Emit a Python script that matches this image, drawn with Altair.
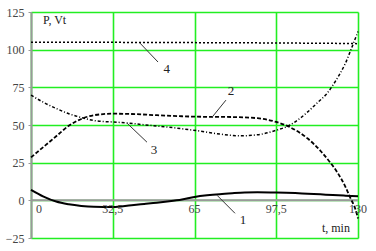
import altair as alt
import pandas as pd

# curve 1 (solid)
t1 = [0, 5, 10, 15, 20, 25, 32.5, 40, 45, 50, 55, 60, 65, 70, 75, 80, 85, 90, 97.5, 105, 110, 115, 120, 125, 130]
p1 = [7, 2.5, -0.8, -2.6, -3.7, -4.3, -4.5, -3.2, -2.4, -1.6, -0.6, 0.6, 2.2, 3.3, 4.1, 4.7, 5.2, 5.4, 5.2, 4.8, 4.4, 4.0, 3.5, 3.1, 2.7]
# curve 2 (dashed)
t2 = [0, 5, 10, 15, 20, 25, 32.5, 40, 50, 60, 70, 80, 90, 97.5, 103, 110, 115, 119, 122, 125, 127, 129, 130]
p2 = [28.5, 35.5, 42.5, 49.5, 54, 56.5, 57.5, 57.3, 56.5, 55.8, 55.4, 55.3, 54.5, 52, 48.5, 41, 33, 25, 18, 9, 1.5, -6, -12]
# curve 3 (dash-dot)
t3 = [0, 5, 10, 15, 20, 26, 32.5, 38, 43, 55, 67, 75, 83, 90, 97.5, 103, 107, 110, 114, 117.7, 121, 125, 127.6, 130]
p3 = [69.8, 65, 61, 57.5, 55, 52.7, 52, 51.4, 50.5, 48.5, 46, 44, 42.8, 43.5, 46.5, 50, 54.5, 58.7, 65, 71, 79, 91, 101.7, 112]
# curve 4 (dotted)
t4 = [0, 20, 40, 60, 80, 100, 120, 130]
p4 = [105, 105, 104.8, 104.7, 104.6, 104.4, 104.2, 104]

# curve labels and leader lines
lab_text = ["1", "2", "3", "4"]
lab_t = [84.3, 79.5, 48.9, 54]
lab_p = [-13.3, 72.5, 33.2, 87]
lead_t1 = [74, 72, 38.2, 43.3]
lead_p1 = [3.3, 55.2, 51.2, 104.4]
lead_t2 = [81.1, 77.5, 46.1, 50.5]
lead_p2 = [-8.6, 66.5, 38.6, 91.8]

# axis texts
x_tick_vals = [0, 32.5, 65, 97.5, 130]
x_tick_labels = ["0", "32,5", "65", "97,5", "130"]
y_tick_vals = [-25, 0, 25, 50, 75, 100, 125]

FONT = "Liberation Serif"
GREEN = "#22ee22"
GRAY = "#999999"

xs = alt.Scale(domain=[0, 130], nice=False, zero=False)
ys = alt.Scale(domain=[-25, 125], nice=False, zero=False)

XAXIS = alt.Axis(values=x_tick_vals, grid=True, gridColor=GREEN, gridWidth=1.6, gridOpacity=1,
                 labels=False, ticks=False, domain=False, title=None)
YAXIS = alt.Axis(values=y_tick_vals, grid=True, gridColor=GREEN, gridWidth=1.6, gridOpacity=1,
                 domainColor=GRAY, domainWidth=2, tickColor=GRAY, tickSize=3,
                 labelFont=FONT, labelFontSize=12, labelColor="#444444", labelOverlap=False,
                 labelFlush=False, labelPadding=4, title=None)


def X(field):
    return alt.X(field, type="quantitative", scale=xs, axis=XAXIS)


def Y(field):
    return alt.Y(field, type="quantitative", scale=ys, axis=YAXIS)


def curve(t, p, dash, width):
    df = pd.DataFrame({"t": t, "p": p})
    kw = dict(color="black", strokeWidth=width, interpolate="monotone", clip=False)
    if dash:
        kw["strokeDash"] = dash
    return alt.Chart(df).mark_line(**kw).encode(x=X("t"), y=Y("p"))


axis_df = pd.DataFrame({"t": [0], "t1": [130], "p": [0]})
xaxis = alt.Chart(axis_df).mark_rule(color=GRAY, strokeWidth=2).encode(
    x=X("t"), x2="t1:Q", y=Y("p")
)

xl_df = pd.DataFrame({"t": x_tick_vals, "lab": x_tick_labels, "p": [0] * len(x_tick_vals)})
xl_first = alt.Chart(xl_df.iloc[:1]).mark_text(font=FONT, fontSize=12, color="#444444", align="left",
                                                 baseline="middle", dx=5, dy=9).encode(
    x=X("t"), y=Y("p"), text="lab:N")
xl_rest = alt.Chart(xl_df.iloc[1:]).mark_text(font=FONT, fontSize=12, color="#444444", align="center",
                                                baseline="middle", dy=9).encode(
    x=X("t"), y=Y("p"), text="lab:N")

titles_df = pd.DataFrame({"t": [4.8, 126.8], "p": [119.7, -18.6], "lab": ["P, Vt", "t, min"]})
ytitle = alt.Chart(titles_df.iloc[:1]).mark_text(font=FONT, fontSize=12, color="#222222", align="left",
                                                  baseline="middle").encode(
    x=X("t"), y=Y("p"), text="lab:N")
xtitle = alt.Chart(titles_df.iloc[1:]).mark_text(font=FONT, fontSize=12, color="#222222", align="right",
                                                  baseline="middle").encode(
    x=X("t"), y=Y("p"), text="lab:N")

lead_df = pd.DataFrame({"t": lead_t1, "p": lead_p1, "t2": lead_t2, "p2": lead_p2})
leaders = alt.Chart(lead_df).mark_rule(color="#333333", strokeWidth=1).encode(
    x=X("t"), y=Y("p"), x2="t2:Q", y2="p2:Q")

lab_df = pd.DataFrame({"t": lab_t, "p": lab_p, "lab": lab_text})
labels = alt.Chart(lab_df).mark_text(font=FONT, fontSize=13, color="#222222", align="center",
                                      baseline="middle").encode(
    x=X("t"), y=Y("p"), text="lab:N")

chart = alt.layer(
    xaxis,
    curve(t4, p4, [2, 2], 1.5),
    curve(t3, p3, [3, 2, 1, 2], 1.5),
    curve(t2, p2, [4, 2], 1.8),
    curve(t1, p1, None, 2),
    leaders, labels, xl_first, xl_rest, ytitle, xtitle,
).properties(
    width=327, height=226,
    autosize=alt.AutoSizeParams(type="none"),
    padding={"left": 31, "top": 12, "right": 18, "bottom": 13},
    background="white",
).configure_view(strokeWidth=0)

chart.save("out.html", embed_options={"renderer": "svg", "actions": False})
